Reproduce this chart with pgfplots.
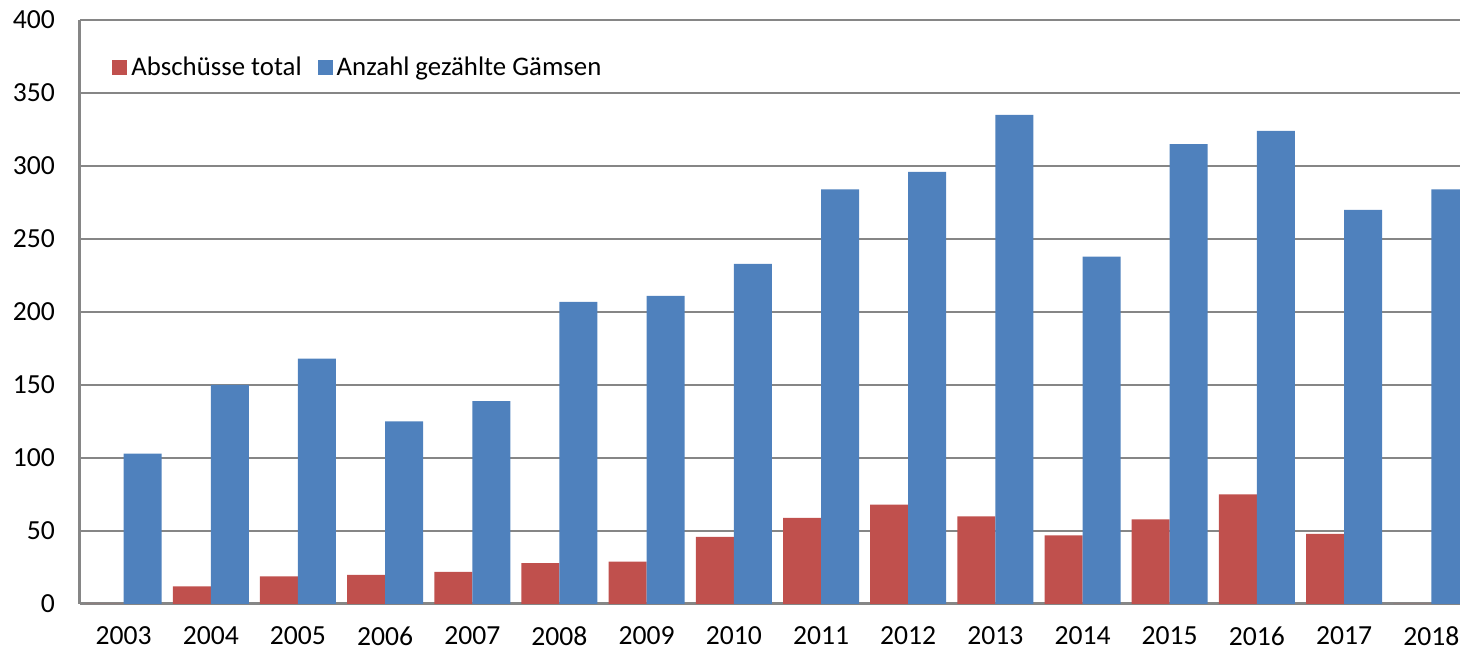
\documentclass[border=0pt]{standalone}
\usepackage{pgfplots}
\pgfplotsset{compat=1.18}
\usepackage{fontspec}
\setmainfont{Carlito}
\definecolor{xlred}{HTML}{C0504D}
\definecolor{xlblue}{HTML}{4F81BD}
\definecolor{gridgray}{HTML}{868686}
\begin{document}
\begin{tikzpicture}
\begin{axis}[
  scale only axis,
  width=690pt, height=292pt,
  at={(0,0)}, anchor=south west,
  xmin=-0.5, xmax=15.33,
  ymin=0, ymax=400,
  ytick={0,50,...,400},
  xtick={0,...,15},
  xticklabels={2003,2004,2005,2006,2007,2008,2009,2010,2011,2012,2013,2014,2015,2016,2017,2018},
  major tick length=0pt,
  axis lines*=left,
  axis line style={-, draw=gridgray, line width=1.5pt},
  ymajorgrids,
  grid style={draw=gridgray, line width=1pt},
  ybar, bar width=19pt,
  font=\fontsize{13.8}{16}\selectfont,
  tick label style={font=\fontsize{13.8}{16}\selectfont},
  /pgf/number format/assume math mode=true,
  yticklabel style={xshift=-9pt},
  xticklabel style={yshift=-8pt},
  legend style={draw=none, fill=none, at={(13pt,268pt)}, anchor=west,
    legend columns=2, font=\fontsize{13.4}{16}\selectfont,
    /tikz/every even column/.append style={column sep=6pt}},
  legend image code/.code={\fill[#1] (-1.5pt,-3.75pt) rectangle (6pt,3.75pt);},
]
\addplot[fill=xlred, draw=none, bar shift=-9.5pt] coordinates {
(0,0) (1,12) (2,19) (3,20) (4,22) (5,28) (6,29) (7,46) (8,59) (9,68) (10,60) (11,47) (12,58) (13,75) (14,48) (15,0)};
\addlegendentry{Abschüsse total}
\addplot[fill=xlblue, draw=none, bar shift=9.5pt] coordinates {
(0,103) (1,150) (2,168) (3,125) (4,139) (5,207) (6,211) (7,233) (8,284) (9,296) (10,335) (11,238) (12,315) (13,324) (14,270) (15,284)};
\addlegendentry{Anzahl gezählte Gämsen}
\end{axis}
\pgfresetboundingbox
\path[use as bounding box] (-40pt,-23.5pt) rectangle (690pt,302pt);
\end{tikzpicture}
\end{document}
